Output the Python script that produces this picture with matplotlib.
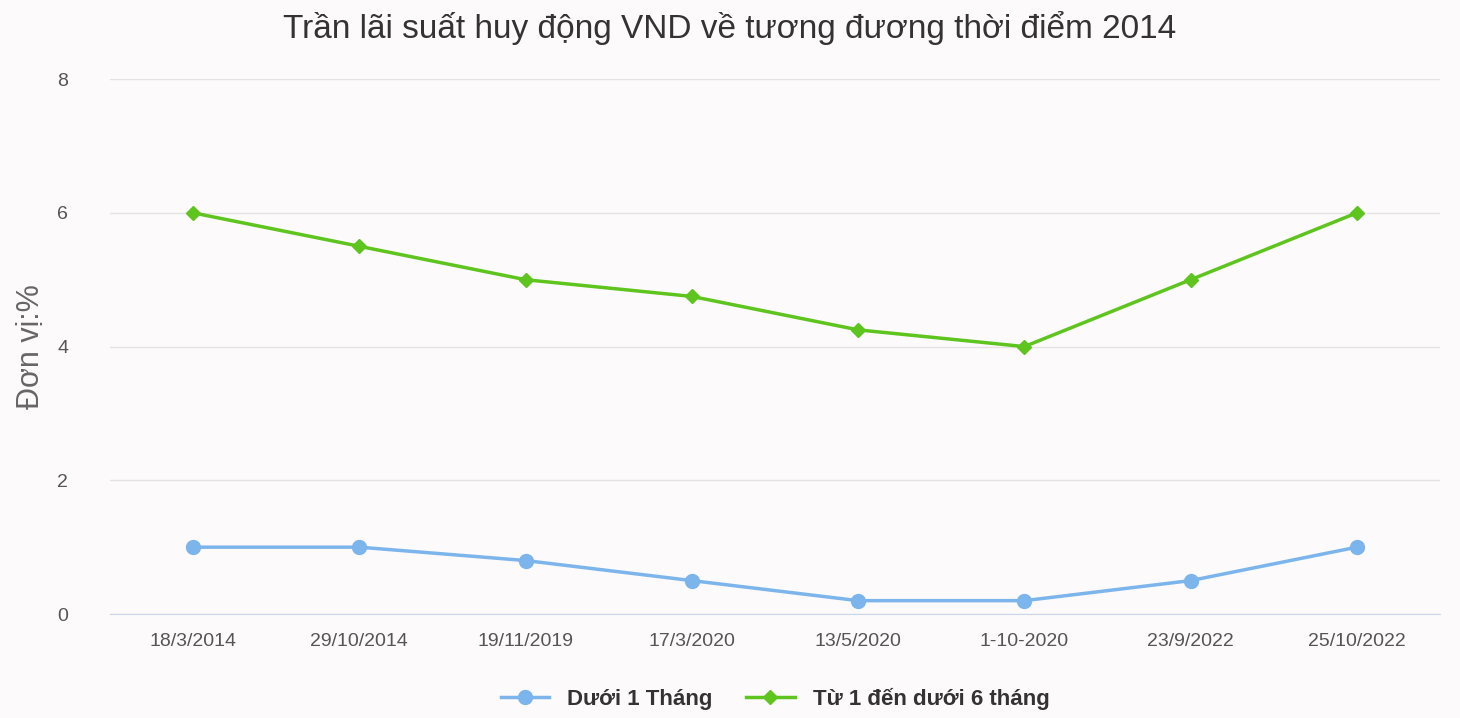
import matplotlib.pyplot as plt

plt.rcParams['font.family'] = ['Liberation Sans', 'DejaVu Sans']

dates = ['18/3/2014', '29/10/2014', '19/11/2019', '17/3/2020',
         '13/5/2020', '1-10-2020', '23/9/2022', '25/10/2022']
duoi_1_thang = [1, 1, 0.8, 0.5, 0.2, 0.2, 0.5, 1]
tu_1_den_6 = [6, 5.5, 5, 4.75, 4.25, 4, 5, 6]

bg = '#fcfafa'
fig = plt.figure(figsize=(14.6, 7.18), dpi=100, facecolor=bg)
ax = fig.add_axes([0.0753, 0.1448, 0.911, 0.745], facecolor=bg)

x = range(len(dates))
ax.plot(x, duoi_1_thang, color='#7cb5ec', lw=2.5, marker='o', ms=10,
        label='Dưới 1 Tháng')
ax.plot(x, tu_1_den_6, color='#5ec41e', lw=2.5, marker='D', ms=7,
        label='Từ 1 đến dưới 6 tháng')

ax.set_xlim(-0.5, len(dates) - 0.5)
ax.set_ylim(0, 8)
ax.set_yticks([0, 2, 4, 6, 8])
ax.set_xticks(list(x))
ax.set_xticklabels(dates)
ax.grid(axis='y', color='#e3e3e3', lw=1)
ax.set_axisbelow(True)
for s in ['top', 'right', 'left']:
    ax.spines[s].set_visible(False)
ax.spines['bottom'].set_color('#ccd6eb')
ax.tick_params(axis='both', length=0, labelsize=14, colors='#555555', pad=14)
ax.tick_params(axis='y', pad=30)
ax.set_ylabel('Đơn vị:%', fontsize=22, color='#666666', labelpad=8)

fig.suptitle('Trần lãi suất huy động VND về tương đương thời điểm 2014',
             fontsize=24, color='#333333', y=0.985)
ax.legend(loc='upper center', bbox_to_anchor=(0.5, -0.1), ncol=2,
          frameon=False, prop={'size': 16, 'weight': 'bold'},
          labelcolor='#333333', handlelength=2.2, columnspacing=1.5)

fig.savefig('out.png', dpi=100, facecolor=bg)
